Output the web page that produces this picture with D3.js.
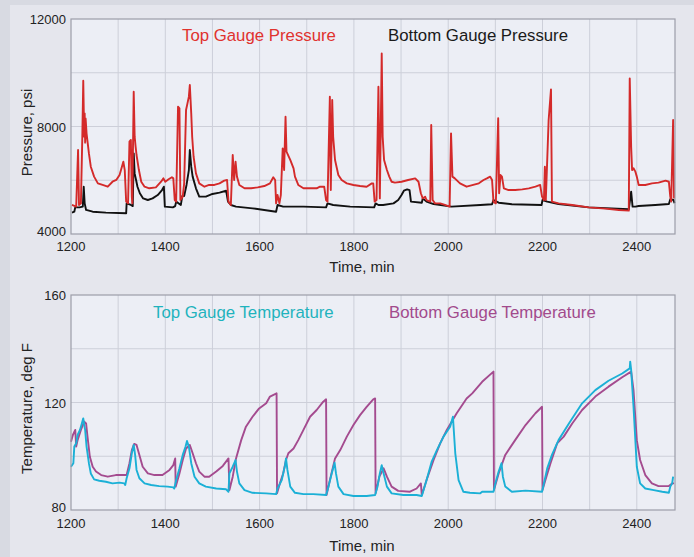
<!DOCTYPE html>
<html lang="en">
<head>
<meta charset="UTF-8" />
<title>Gauge Pressure and Temperature</title>
<script src="https://d3js.org/d3.v7.min.js"></script>
<style>
    body { margin: 0; background: #d8dae2; }
    svg { display: block; font-family: "Liberation Sans", Arial, sans-serif; }
</style>
</head>
<body>
<script>
    // ---- data (time in min, value) ----
    var timeTicks = [1200, 1400, 1600, 1800, 2000, 2200, 2400];
    var timeGrid = [1300, 1400, 1500, 1600, 1700, 1800, 1900, 2000, 2100, 2200, 2300, 2400];
    var pressureTicks = [4000, 8000, 12000];
    var pressureGrid = [6000, 8000, 10000];
    var tempTicks = [80, 120, 160];
    var tempGrid = [100, 120, 140];

    var topPressure = [
        [1202, 5080], [1211, 5020], [1215, 7125], [1217, 5080], [1221, 5140], [1224, 7620], [1226, 9700],
        [1228, 7620], [1229, 8490], [1230, 7400], [1231, 8300], [1233, 7745], [1238, 7000], [1242, 6505],
        [1249, 6135], [1257, 5885], [1267, 5825], [1278, 5760], [1288, 5945], [1296, 6010], [1303, 6195],
        [1308, 6505], [1311, 6690], [1314, 6380], [1317, 5205], [1321, 5140], [1324, 7435], [1327, 7500],
        [1329, 5390], [1330, 5140], [1333, 9295], [1335, 7620], [1337, 7250], [1339, 6940], [1344, 6380],
        [1349, 5945], [1356, 5760], [1366, 5700], [1380, 5735], [1391, 5945], [1396, 6070], [1400, 5945],
        [1407, 6035], [1414, 6110], [1417, 6070], [1420, 5265], [1423, 5205], [1427, 8735], [1430, 8675],
        [1432, 5265], [1437, 5390], [1440, 5885], [1444, 8615], [1447, 8860], [1450, 9110], [1452, 9545],
        [1455, 8490], [1457, 7620], [1460, 6875], [1465, 6255], [1472, 5885], [1483, 5760], [1493, 5825],
        [1504, 5825], [1515, 5885], [1525, 5985], [1531, 6010], [1534, 5205], [1539, 5080], [1543, 6940],
        [1546, 6010], [1549, 6690], [1552, 6135], [1557, 5825], [1568, 5700], [1582, 5700], [1596, 5735],
        [1610, 5785], [1622, 5885], [1629, 6110], [1633, 6010], [1635, 5140], [1638, 5450], [1642, 5140],
        [1645, 5450], [1649, 7185], [1652, 6380], [1655, 8365], [1657, 7065], [1665, 6755], [1672, 6445],
        [1675, 6135], [1682, 5825], [1693, 5700], [1707, 5700], [1721, 5700], [1728, 5760], [1737, 5760],
        [1741, 5265], [1744, 5205], [1749, 9110], [1751, 5635], [1754, 8985], [1756, 7620], [1760, 6755],
        [1767, 6195], [1774, 6010], [1785, 5885], [1799, 5825], [1813, 5785], [1827, 5760], [1838, 5885],
        [1841, 5885], [1844, 5205], [1848, 5265], [1852, 9480], [1855, 5325], [1859, 10720], [1861, 7620],
        [1864, 6755], [1870, 6380], [1875, 6135], [1880, 5945], [1887, 5910], [1901, 5945], [1915, 6010],
        [1930, 6070], [1937, 5945], [1942, 5515], [1946, 5325], [1951, 5390], [1954, 5265], [1962, 5205],
        [1964, 8055], [1967, 5265], [1972, 5140], [1983, 5140], [1993, 5080], [2003, 5020], [2006, 7745],
        [2009, 6135], [2014, 6070], [2025, 5885], [2039, 5760], [2053, 5825], [2065, 5885], [2075, 6010],
        [2082, 6070], [2089, 6135], [2093, 6010], [2096, 5205], [2101, 5140], [2106, 8305], [2108, 5515],
        [2111, 6195], [2114, 6135], [2118, 5700], [2128, 5635], [2142, 5635], [2157, 5660], [2171, 5700],
        [2185, 5760], [2195, 5825], [2199, 5390], [2203, 5265], [2205, 6505], [2207, 5265], [2213, 8240],
        [2218, 9380], [2220, 5205], [2234, 5140], [2263, 5080], [2298, 4990], [2333, 4945], [2362, 4895],
        [2383, 4870], [2385, 9790], [2388, 7250], [2390, 6380], [2393, 6445], [2397, 6320], [2400, 6135],
        [2404, 5825], [2418, 5825], [2432, 5885], [2446, 5910], [2461, 5985], [2468, 5945], [2471, 5390],
        [2473, 5205], [2477, 8240], [2479, 5325]
    ];

    var bottomPressure = [
        [1202, 4795], [1207, 4830], [1209, 4990], [1218, 4990], [1225, 5020], [1227, 5760], [1229, 5140],
        [1232, 4895], [1246, 4830], [1274, 4795], [1317, 4770], [1318, 5140], [1327, 5080], [1331, 5040],
        [1333, 7000], [1335, 6255], [1338, 6010], [1341, 5760], [1346, 5515], [1353, 5325], [1363, 5265],
        [1373, 5325], [1384, 5450], [1393, 5635], [1397, 5760], [1399, 5020], [1416, 4990], [1421, 5040],
        [1423, 5205], [1433, 5080], [1436, 5415], [1440, 5415], [1445, 5825], [1450, 6380], [1452, 7125],
        [1455, 6505], [1458, 6135], [1465, 5700], [1472, 5390], [1486, 5390], [1500, 5490], [1515, 5540],
        [1529, 5610], [1533, 5205], [1539, 5080], [1550, 5020], [1585, 4955], [1635, 4830], [1638, 5080],
        [1650, 5020], [1693, 5020], [1741, 4990], [1744, 5140], [1756, 5080], [1792, 5020], [1843, 4990],
        [1846, 5140], [1852, 5080], [1862, 5080], [1884, 5140], [1894, 5265], [1901, 5450], [1906, 5610],
        [1913, 5660], [1918, 5635], [1921, 5205], [1944, 5165], [1946, 5325], [1954, 5205], [1969, 5115],
        [2007, 5020], [2068, 5080], [2093, 5105], [2096, 5265], [2107, 5165], [2135, 5105], [2198, 5080],
        [2200, 5265], [2210, 5205], [2234, 5115], [2298, 4990], [2383, 4920], [2388, 5575], [2391, 5020],
        [2397, 5020], [2404, 5040], [2439, 5080], [2468, 5115], [2471, 5290], [2478, 5265], [2480, 5140]
    ];

    var topTemp = [
        [1200, 96.1], [1205, 97.4], [1207, 103.6], [1211, 104.8], [1214, 107.9], [1219, 109.8], [1223, 112.2],
        [1226, 114.1], [1228, 111.6], [1230, 109.8], [1233, 103.6], [1238, 97.4], [1242, 93.6], [1249, 91.4],
        [1260, 90.9], [1274, 90.5], [1288, 89.9], [1303, 90.2], [1313, 89.9], [1315, 89.3], [1318, 91.8],
        [1324, 95.5], [1329, 101.1], [1333, 104.2], [1336, 100.5], [1339, 94.9], [1345, 91.8], [1356, 89.9],
        [1370, 89.3], [1387, 88.9], [1405, 88.7], [1417, 88.4], [1419, 88.0], [1423, 91.1], [1430, 95.5],
        [1437, 100.5], [1443, 103.6], [1446, 105.7], [1450, 103.6], [1455, 97.4], [1462, 92.4], [1472, 89.9],
        [1486, 88.7], [1508, 88.0], [1529, 87.7], [1534, 86.8], [1536, 93.6], [1543, 96.1], [1549, 98.6],
        [1552, 94.3], [1557, 89.9], [1568, 87.4], [1585, 86.4], [1614, 86.2], [1635, 85.9], [1638, 88.0],
        [1647, 91.1], [1654, 96.7], [1656, 99.2], [1659, 94.9], [1665, 88.7], [1675, 86.4], [1693, 85.9],
        [1714, 85.9], [1741, 85.6], [1746, 88.7], [1753, 93.6], [1759, 97.6], [1762, 93.6], [1767, 88.7],
        [1778, 85.9], [1799, 85.2], [1827, 85.2], [1845, 85.6], [1850, 88.7], [1855, 93.6], [1859, 96.7],
        [1862, 94.3], [1870, 88.7], [1880, 86.2], [1905, 85.6], [1933, 85.6], [1944, 85.2], [1954, 91.1],
        [1965, 98.0], [1976, 102.3], [1990, 107.3], [2004, 111.0], [2010, 114.7], [2015, 101.1], [2022, 91.1],
        [2032, 86.8], [2046, 86.4], [2068, 86.2], [2072, 86.8], [2096, 86.8], [2100, 89.9], [2107, 94.3],
        [2113, 97.4], [2116, 92.4], [2121, 88.7], [2135, 86.8], [2164, 87.2], [2199, 86.8], [2203, 89.9],
        [2210, 95.5], [2220, 100.5], [2234, 106.0], [2256, 112.2], [2284, 119.7], [2312, 124.6], [2340, 128.1],
        [2369, 130.8], [2385, 132.7], [2386, 135.2], [2388, 132.1], [2393, 118.4], [2400, 96.1], [2407, 89.9],
        [2418, 88.0], [2436, 87.4], [2454, 86.8], [2468, 86.4], [2471, 88.7], [2475, 89.9], [2477, 92.4]
    ];

    var bottomTemp = [
        [1200, 105.4], [1204, 107.9], [1209, 109.8], [1211, 103.6], [1214, 106.0], [1221, 109.8], [1228, 112.9],
        [1232, 112.2], [1235, 107.3], [1240, 99.8], [1246, 96.1], [1253, 94.3], [1264, 93.0], [1278, 92.4],
        [1295, 93.0], [1318, 93.0], [1324, 97.4], [1329, 102.3], [1334, 104.6], [1339, 104.2], [1345, 100.5],
        [1352, 96.1], [1363, 93.6], [1377, 93.0], [1394, 93.0], [1409, 94.9], [1417, 96.7], [1421, 99.2],
        [1422, 88.7], [1430, 93.6], [1437, 98.6], [1444, 102.9], [1452, 104.2], [1458, 101.1], [1465, 97.4],
        [1472, 94.3], [1483, 92.4], [1493, 92.4], [1508, 94.3], [1522, 96.4], [1534, 99.2], [1536, 87.4],
        [1543, 92.4], [1550, 99.2], [1561, 106.0], [1571, 111.0], [1585, 114.7], [1599, 117.8], [1614, 119.7],
        [1622, 122.2], [1636, 123.4], [1637, 86.2], [1643, 89.9], [1650, 93.6], [1656, 98.6], [1661, 101.1],
        [1672, 102.9], [1682, 106.0], [1693, 109.8], [1707, 114.7], [1721, 117.2], [1735, 120.3], [1741, 121.2],
        [1742, 85.6], [1749, 91.1], [1760, 99.2], [1771, 102.3], [1785, 107.3], [1799, 111.6], [1813, 115.3],
        [1827, 118.4], [1841, 121.2], [1845, 121.5], [1846, 86.2], [1854, 92.4], [1863, 95.5], [1870, 92.4],
        [1880, 88.7], [1894, 87.1], [1919, 86.8], [1933, 88.0], [1942, 89.9], [1944, 85.6], [1954, 91.1],
        [1969, 98.6], [1983, 104.8], [1997, 109.8], [2018, 116.0], [2039, 121.5], [2051, 123.4], [2072, 127.7],
        [2096, 131.5], [2097, 87.4], [2107, 93.6], [2121, 100.5], [2142, 106.0], [2164, 111.6], [2185, 116.0],
        [2199, 118.4], [2200, 87.4], [2206, 91.1], [2217, 97.4], [2231, 104.8], [2245, 107.3], [2263, 112.2],
        [2284, 117.2], [2312, 122.2], [2340, 125.9], [2369, 129.4], [2388, 131.5], [2393, 124.6], [2400, 106.0],
        [2407, 98.6], [2418, 93.0], [2432, 89.9], [2446, 88.9], [2468, 88.9], [2475, 89.9], [2479, 89.9]
    ];

    // ---- set up the SVG ----
    var w = 694;
    var h = 557;
    var left = 71, right = 675;

    var svg = d3.select("body")
        .append("svg")
        .attr("width", w)
        .attr("height", h);

    // outer frame and lighter panel
    svg.append("rect").attr("width", w).attr("height", h).attr("fill", "#d8dae2");
    svg.append("rect").attr("x", 10).attr("y", 5).attr("width", w - 10).attr("height", h - 5).attr("fill", "#e5e6ed");

    var xScale = d3.scaleLinear().domain([1200, 2481]).range([left, right]);

    function drawPanel(top, bottom, yScale, yTicks, yGrid, yTitle, series, titleY, axisTitleY, tickLabelY) {
        var g = svg.append("g");

        g.append("rect")
            .attr("x", left).attr("y", top)
            .attr("width", right - left).attr("height", bottom - top)
            .attr("fill", "#eceef5");

        // grid
        g.selectAll(".vg").data(timeGrid).enter().append("line")
            .attr("x1", function (d) { return xScale(d); })
            .attr("x2", function (d) { return xScale(d); })
            .attr("y1", top).attr("y2", bottom)
            .style("stroke", "#cdcfd9").style("stroke-width", 1);
        g.selectAll(".hg").data(yGrid).enter().append("line")
            .attr("x1", left).attr("x2", right)
            .attr("y1", function (d) { return yScale(d); })
            .attr("y2", function (d) { return yScale(d); })
            .style("stroke", "#cdcfd9").style("stroke-width", 1);

        // lines
        series.forEach(function (s) {
            g.append("path")
                .datum(s.data)
                .attr("fill", "none")
                .attr("stroke", s.color)
                .attr("stroke-width", 1.9)
                .attr("stroke-linejoin", "round")
                .attr("d", d3.line()
                    .x(function (d) { return xScale(d[0]); })
                    .y(function (d) { return yScale(d[1]); }));
        });

        // frame
        g.append("rect")
            .attr("x", left).attr("y", top)
            .attr("width", right - left).attr("height", bottom - top)
            .attr("fill", "none").attr("stroke", "#9c9da8").attr("stroke-width", 1.2);

        // tick labels
        g.selectAll(".xt").data(timeTicks).enter().append("text")
            .attr("x", function (d) { return xScale(d); })
            .attr("y", tickLabelY)
            .attr("text-anchor", "middle")
            .style("font-size", "13px").style("fill", "#222")
            .text(function (d) { return d; });
        g.selectAll(".yt").data(yTicks).enter().append("text")
            .attr("x", 66)
            .attr("y", function (d, i) { return yScale(d) + (i === 0 ? 2 : 5); })
            .attr("text-anchor", "end")
            .style("font-size", "13px").style("fill", "#222")
            .text(function (d) { return d; });

        // axis titles
        g.append("text")
            .attr("text-anchor", "middle")
            .attr("x", 362).attr("y", axisTitleY)
            .style("font-size", "15px").style("fill", "#222")
            .text("Time, min");
        g.append("text")
            .attr("text-anchor", "middle")
            .attr("transform", "rotate(-90)")
            .attr("x", -(top + bottom) / 2 - 6).attr("y", 32)
            .style("font-size", "15px").style("fill", "#222")
            .text(yTitle);

        // series titles
        series.forEach(function (s) {
            g.append("text")
                .attr("x", s.labelX).attr("y", titleY)
                .style("font-size", "16.8px").style("fill", s.textColor)
                .text(s.name);
        });
    }

    var pScale = d3.scaleLinear().domain([4000, 12000]).range([234, 19]);
    drawPanel(19, 234, pScale, pressureTicks, pressureGrid, "Pressure, psi", [
        { name: "Bottom Gauge Pressure", data: bottomPressure, color: "#111111", textColor: "#1a1a1a", labelX: 388 },
        { name: "Top Gauge Pressure", data: topPressure, color: "#d42a2a", textColor: "#e0322e", labelX: 182 }
    ], 41, 272, 251);

    var tScale = d3.scaleLinear().domain([80, 160]).range([510, 295]);
    drawPanel(295, 510, tScale, tempTicks, tempGrid, "Temperature, deg F", [
        { name: "Bottom Gauge Temperature", data: bottomTemp, color: "#a44b8f", textColor: "#a24a8c", labelX: 389 },
        { name: "Top Gauge Temperature", data: topTemp, color: "#1bb0d6", textColor: "#1fb3bd", labelX: 153 }
    ], 318, 551, 528);
</script>
</body>
</html>
